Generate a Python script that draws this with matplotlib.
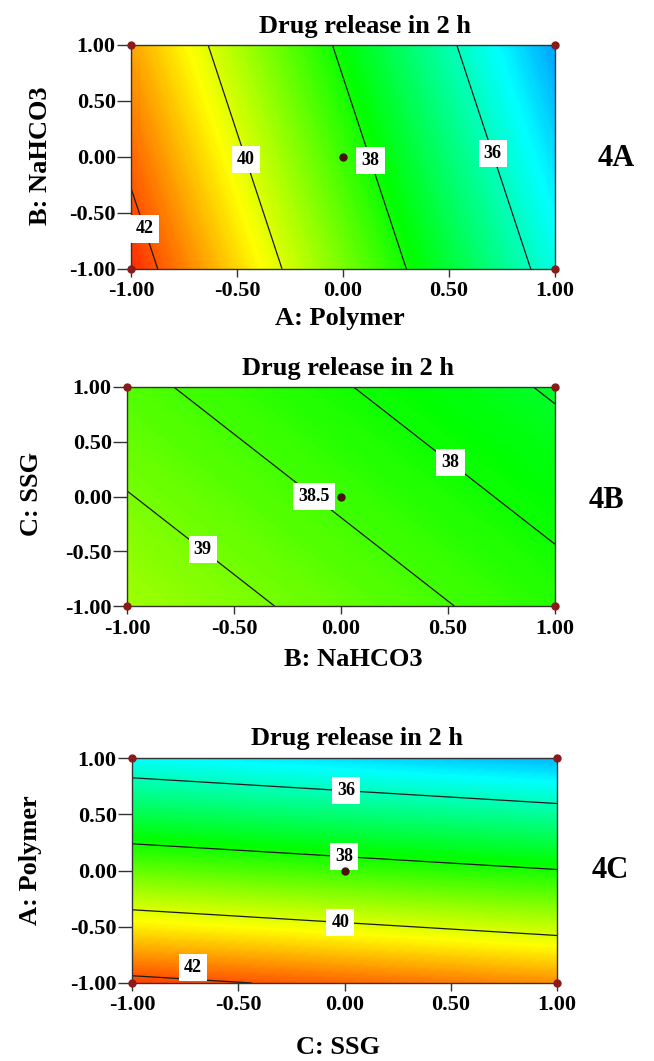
import numpy as np
import matplotlib
matplotlib.use('Agg')
import matplotlib.pyplot as plt
from matplotlib.colors import LinearSegmentedColormap, Normalize
from matplotlib.ticker import FormatStrFormatter

plt.rcParams['font.family'] = ['Liberation Serif', 'DejaVu Serif']
plt.rcParams['font.weight'] = 'bold'
plt.rcParams['axes.unicode_minus'] = False

# coded factor levels (-1 .. +1)
levels_coded = [-1.0, 1.0]
ticks = [-1.0, -0.5, 0.0, 0.5, 1.0]

# predicted drug release (%) at the corners, rows = y level, cols = x level
z_4a = [[42.43, 35.61],   # B = -1 : A = -1, A = +1
        [41.24, 34.42]]   # B = +1
z_4b = [[39.41, 38.22],   # C = -1 : B = -1, B = +1
        [38.63, 37.44]]   # C = +1
z_4c = [[42.22, 41.44],   # A = -1 : C = -1, C = +1
        [35.40, 34.62]]   # A = +1

lines_4a = [36, 38, 40, 42]
lines_4b = [38, 38.5, 39]
lines_4c = [36, 38, 40, 42]
extra_4b = [37.5]   # unlabelled line in the top right corner

labels_4a = [(0.69, 0.02), (0.13, -0.03), (-0.46, -0.02), (-0.90, -0.62)]
labels_4b = [(0.52, 0.33), (-0.11, 0.04), (-0.64, -0.47)]
labels_4c = [(0.01, 0.74), (0.0, 0.14), (-0.02, -0.46), (-0.71, -0.86)]

W, H = 654, 1061
fig = plt.figure(figsize=(W / 100, H / 100), dpi=100)

cmap = LinearSegmentedColormap.from_list(
    'dx', [(0.0, '#0000ff'), (0.25, '#00ffff'), (0.5, '#00ff00'),
           (0.75, '#ffff00'), (1.0, '#ff0000')])
norm = Normalize(vmin=32.85, vmax=42.85)
fill_levels = np.linspace(32.85, 42.85, 301)


def px(x, y):
    return x / W, 1 - y / H


def panel(box, z, lines, label_pos, xlab, ylab, tag, title_x, title_y,
          xlab_pos, ylab_pos, tag_pos, extra=None):
    l, r, t, b = box
    ax = fig.add_axes([l / W, 1 - b / H, (r - l) / W, (b - t) / H])
    X, Y = np.meshgrid(levels_coded, levels_coded)
    Z = np.array(z)
    ax.contourf(X, Y, Z, levels=fill_levels, cmap=cmap, norm=norm,
                antialiased=False)
    if extra:
        ax.contour(X, Y, Z, levels=extra, colors='#1a1a1a', linewidths=0.9)
    cs = ax.contour(X, Y, Z, levels=lines, colors='#1a1a1a', linewidths=0.9)
    txts = ax.clabel(cs, manual=label_pos, inline=True, inline_spacing=2,
                     fmt=lambda v: f'{v:g}', fontsize=13)
    for tx, (mx, my) in zip(txts, label_pos):
        tx.set_fontweight('bold')
        tx.set_color('black')
        tx.set_rotation(0)
        tx.set_clip_on(False)
        tx.set_bbox(dict(boxstyle='square,pad=0.28', fc='white', ec='none'))
        # keep the box inside the frame near the lower edge
        x0, y0 = tx.get_position()
        if y0 < -0.9:
            tx.set_position((x0, my))

    # design points
    ax.plot([-1, 1, -1, 1], [-1, -1, 1, 1], 'o', color='#8b1a1a',
            markersize=5, clip_on=False, zorder=5)
    ax.plot(0, 0, 'o', color='#4a1010', markersize=5, zorder=5)

    ax.set_xlim(-1, 1)
    ax.set_ylim(-1, 1)
    ax.set_xticks(ticks)
    ax.set_yticks(ticks)
    ax.xaxis.set_major_formatter(FormatStrFormatter('%.2f'))
    ax.yaxis.set_major_formatter(FormatStrFormatter('%.2f'))
    ax.tick_params(axis='x', direction='out', length=6, width=1,
                   color='#333333', labelsize=16, pad=3)
    ax.tick_params(axis='y', direction='out', length=10, width=1,
                   color='#333333', labelsize=16, pad=1)
    for s in ax.spines.values():
        s.set_color('#333333')
        s.set_linewidth(1)

    fig.text(*px(title_x, title_y), 'Drug release in 2 h', ha='center',
             va='center', fontsize=19, fontweight='bold')
    fig.text(*px(*xlab_pos), xlab, ha='center', va='center', fontsize=19,
             fontweight='bold')
    fig.text(*px(*ylab_pos), ylab, ha='center', va='center', fontsize=19,
             fontweight='bold', rotation=90)
    fig.text(*px(*tag_pos), tag, ha='center', va='center', fontsize=22,
             fontweight='bold')
    return ax


panel((131, 555, 45, 269), z_4a, lines_4a, labels_4a,
      'A: Polymer', 'B: NaHCO3', '4A', 365, 27, (340, 318), (41, 156),
      (616, 158))
panel((127, 555, 387, 606), z_4b, lines_4b, labels_4b,
      'B: NaHCO3', 'C: SSG', '4B', 348, 369, (353, 659), (31, 494),
      (606, 500), extra=extra_4b)
panel((132, 557, 758, 983), z_4c, lines_4c, labels_4c,
      'C: SSG', 'A: Polymer', '4C', 357, 739, (338, 1047), (31, 860),
      (610, 870))

fig.savefig('out.png', dpi=100)
